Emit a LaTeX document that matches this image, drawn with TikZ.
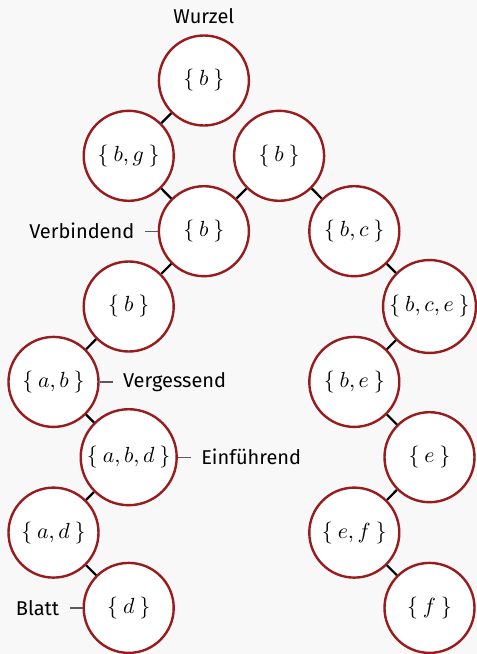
\documentclass[tikz,border=0pt]{standalone}
\usepackage{fontspec}
\setmainfont{Fira Sans}
\definecolor{bg}{RGB}{248,248,248}
\definecolor{ring}{RGB}{152,28,30}
\definecolor{pinline}{RGB}{90,90,90}
\newcommand{\bagset}[1]{$\{\mkern4mu #1\mkern4mu\}$}
\begin{document}
\begin{tikzpicture}[x=0.5pt,y=-0.5pt,
  bag/.style={circle,draw=ring,fill=white,line width=1.2pt,minimum size=45pt,inner sep=2pt,font=\fontsize{10.6}{12}\selectfont},
  tedge/.style={draw=black,line width=1.1pt},
  every label/.style={inner sep=5pt,font=\fontsize{10}{12}\selectfont},
  every pin/.style={inner sep=5pt,font=\fontsize{10}{12}\selectfont},
  every pin edge/.style={draw=pinline,line width=0.6pt},
  pin distance=6.5pt]
\fill[bg] (0,0) rectangle (477,654);
\useasboundingbox (0,0) rectangle (477,654);
\def\ca{53.5}\def\cb{128.7}\def\cc{203.9}\def\cd{279.1}\def\ce{354.3}\def\cf{429.5}
\node[bag,label=above:Wurzel] (root) at (\cc,80.5) {\bagset{b}};
\node[bag] (bg) at (\cb,155.8) {\bagset{b,g}};
\node[bag] (bR) at (\cd,155.8) {\bagset{b}};
\node[bag,pin=left:Verbindend] (verb) at (\cc,231.2) {\bagset{b}};
\node[bag] (bc) at (\ce,231.2) {\bagset{b,c}};
\node[bag] (bL) at (\cb,306.5) {\bagset{b}};
\node[bag] (bce) at (\cf,306.5) {\bagset{b,c,e}};
\node[bag,pin=right:Vergessend] (ab) at (\ca,381.9) {\bagset{a,b}};
\node[bag] (be) at (\ce,381.9) {\bagset{b,e}};
\node[bag,pin=right:Einführend] (abd) at (\cb,457.2) {\bagset{a,b,d}};
\node[bag] (e) at (\cf,457.2) {\bagset{e}};
\node[bag] (ad) at (\ca,532.6) {\bagset{a,d}};
\node[bag] (ef) at (\ce,532.6) {\bagset{e,f}};
\node[bag,pin=left:Blatt] (d) at (\cb,607.9) {\bagset{d}};
\node[bag] (f) at (\cf,607.9) {\bagset{f}};
\path[tedge] (root) -- (bg);
\path[tedge] (bg) -- (verb);
\path[tedge] (bR) -- (verb);
\path[tedge] (bR) -- (bc);
\path[tedge] (verb) -- (bL);
\path[tedge] (bc) -- (bce);
\path[tedge] (bL) -- (ab);
\path[tedge] (bce) -- (be);
\path[tedge] (ab) -- (abd);
\path[tedge] (be) -- (e);
\path[tedge] (abd) -- (ad);
\path[tedge] (e) -- (ef);
\path[tedge] (ad) -- (d);
\path[tedge] (ef) -- (f);
\end{tikzpicture}
\end{document}
